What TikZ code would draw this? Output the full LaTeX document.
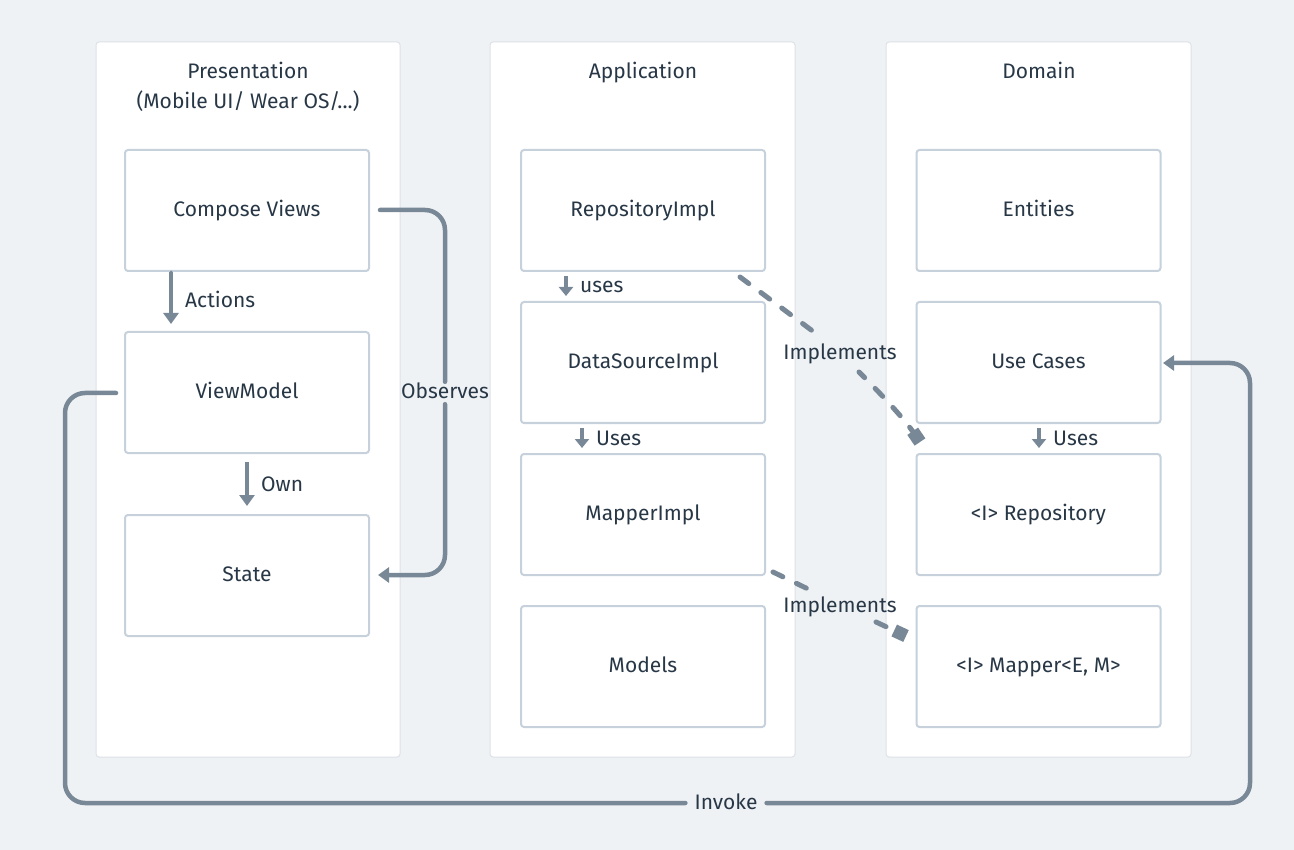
\documentclass[tikz,border=0pt]{standalone}
\usepackage{fontspec}
\setmainfont{Fira Sans}
\usetikzlibrary{arrows.meta}
\definecolor{bgc}{HTML}{EFF2F5}
\definecolor{panelb}{HTML}{DDE2E7}
\definecolor{boxb}{HTML}{C6D1DC}
\definecolor{linec}{HTML}{798897}
\definecolor{txtc}{HTML}{283746}
\begin{document}
\begin{tikzpicture}[x=1pt,y=-1pt,
  font=\fontsize{21}{25}\selectfont, text=txtc,
  panel/.style={draw=panelb, line width=1pt, fill=white, rounded corners=3pt},
  cbox/.style={draw=boxb, line width=2pt, fill=white, rounded corners=3pt, minimum width=244pt, minimum height=121pt, inner sep=0pt, text height=1.2em, text depth=0pt},
  conn/.style={draw=linec, line width=4.5pt, line cap=round, rounded corners=20pt},
  tip/.style={-{Triangle[width=15pt,length=11pt]}},
  smalltip/.style={-{Triangle[width=14pt,length=9pt]}},
  dashline/.style={draw=linec, line width=5pt, line cap=round, dash pattern=on 11pt off 15pt},
  sqtip/.style={-{Square[width=13pt,length=13pt]}},
  lbl/.style={inner sep=2pt, text height=1.2em, text depth=0pt},
  glbl/.style={inner xsep=9pt, inner ysep=5pt, text height=1.2em, text depth=0pt},
]
\useasboundingbox (0,0) rectangle (1294,850);
\fill[bgc] (0,0) rectangle (1294,850);

% panels
\draw[panel] (96,42) rectangle (400,757);
\draw[panel] (490,42) rectangle (795,757);
\draw[panel] (886,42) rectangle (1191,757);

\node[lbl] (tp) at (248,73) {Presentation};
\node[lbl] (tp2) at (248,103) {(Mobile UI/ Wear OS/...)};
\node[lbl] (ta) at (643,73) {Application};
\node[lbl] (td) at (1039,73) {Domain};

% presentation boxes
\node[cbox] (cv) at (247,210.5) {Compose Views};
\node[cbox] (vm) at (247,392.5) {ViewModel};
\node[cbox] (st) at (247,575.5) {State};

% application boxes
\node[cbox] (ri) at (643,210.5) {RepositoryImpl};
\node[cbox] (ds) at (643,362.5) {DataSourceImpl};
\node[cbox] (mi) at (643,514.5) {MapperImpl};
\node[cbox] (mo) at (643,666.5) {Models};

% domain boxes
\node[cbox] (en) at (1038.5,210.5) {Entities};
\node[cbox] (uc) at (1038.5,362.5) {Use Cases};
\node[cbox] (rp) at (1038.5,514.5) {<I> Repository};
\node[cbox] (mp) at (1038.5,666.5) {<I> Mapper<E, M>};

% Actions
\coordinate (a1) at (171,272);
\coordinate (a2) at (171,324);
\draw[conn, tip, line cap=butt] (a1) -- (a2);
\fill[linec] (a1) circle (1.5pt);
\node[lbl, anchor=west] (la) at (183,302) {Actions};

% Own
\coordinate (o1) at (247,462);
\coordinate (o2) at (247,506);
\draw[conn, tip, line cap=butt] (o1) -- (o2);
\node[lbl, anchor=west] (lo) at (259,485) {Own};

% uses (application)
\coordinate (u1) at (566,276);
\coordinate (u2) at (566,296);
\draw[conn, smalltip, line cap=butt] (u1) -- (u2);
\node[lbl, anchor=west] (lu1) at (578,287) {uses};

\coordinate (u3) at (582,428);
\coordinate (u4) at (582,448);
\draw[conn, smalltip, line cap=butt] (u3) -- (u4);
\node[lbl, anchor=west] (lu2) at (594,439) {Uses};

\coordinate (u5) at (1039,428);
\coordinate (u6) at (1039,448);
\draw[conn, smalltip, line cap=butt] (u5) -- (u6);
\node[lbl, anchor=west] (lu3) at (1051,439) {Uses};

% Observes
\coordinate (ob1) at (380,210);
\coordinate (ob2) at (378,575);
\node[glbl] (lob) at (445,393) {Observes};
\draw[conn] (ob1) -- (445,210) -- (lob.north);
\draw[conn, tip] (lob.south) -- (445,575) -- (ob2);

% Invoke
\coordinate (iv1) at (116,393);
\coordinate (iv2) at (1163,363);
\node[glbl] (liv) at (726,803) {Invoke};
\draw[conn] (iv1) -- (65,393) -- (65,803) -- (liv.west);
\draw[conn, tip] (liv.east) -- (1250,803) -- (1250,363) -- (iv2);

% Implements 1
\coordinate (im1) at (740,277);
\coordinate (im1b) at (822,338);
\coordinate (im1c) at (859,372);
\coordinate (im1e) at (920,442);
\node[lbl] (lim1) at (840,354) {Implements};
\draw[dashline] (im1) -- (im1b);
\draw[dashline, dash phase=3pt, sqtip] (im1c) .. controls (885,398) and (905,420) .. (im1e);

% Implements 2
\coordinate (im2) at (773,572);
\coordinate (im2b) at (808,589);
\coordinate (im2c) at (876,622);
\coordinate (im2e) at (906,636);
\node[lbl] (lim2) at (840,606) {Implements};
\draw[dashline] (im2) -- (im2b);
\draw[dashline, sqtip] (im2c) -- (im2e);

\end{tikzpicture}
\end{document}
